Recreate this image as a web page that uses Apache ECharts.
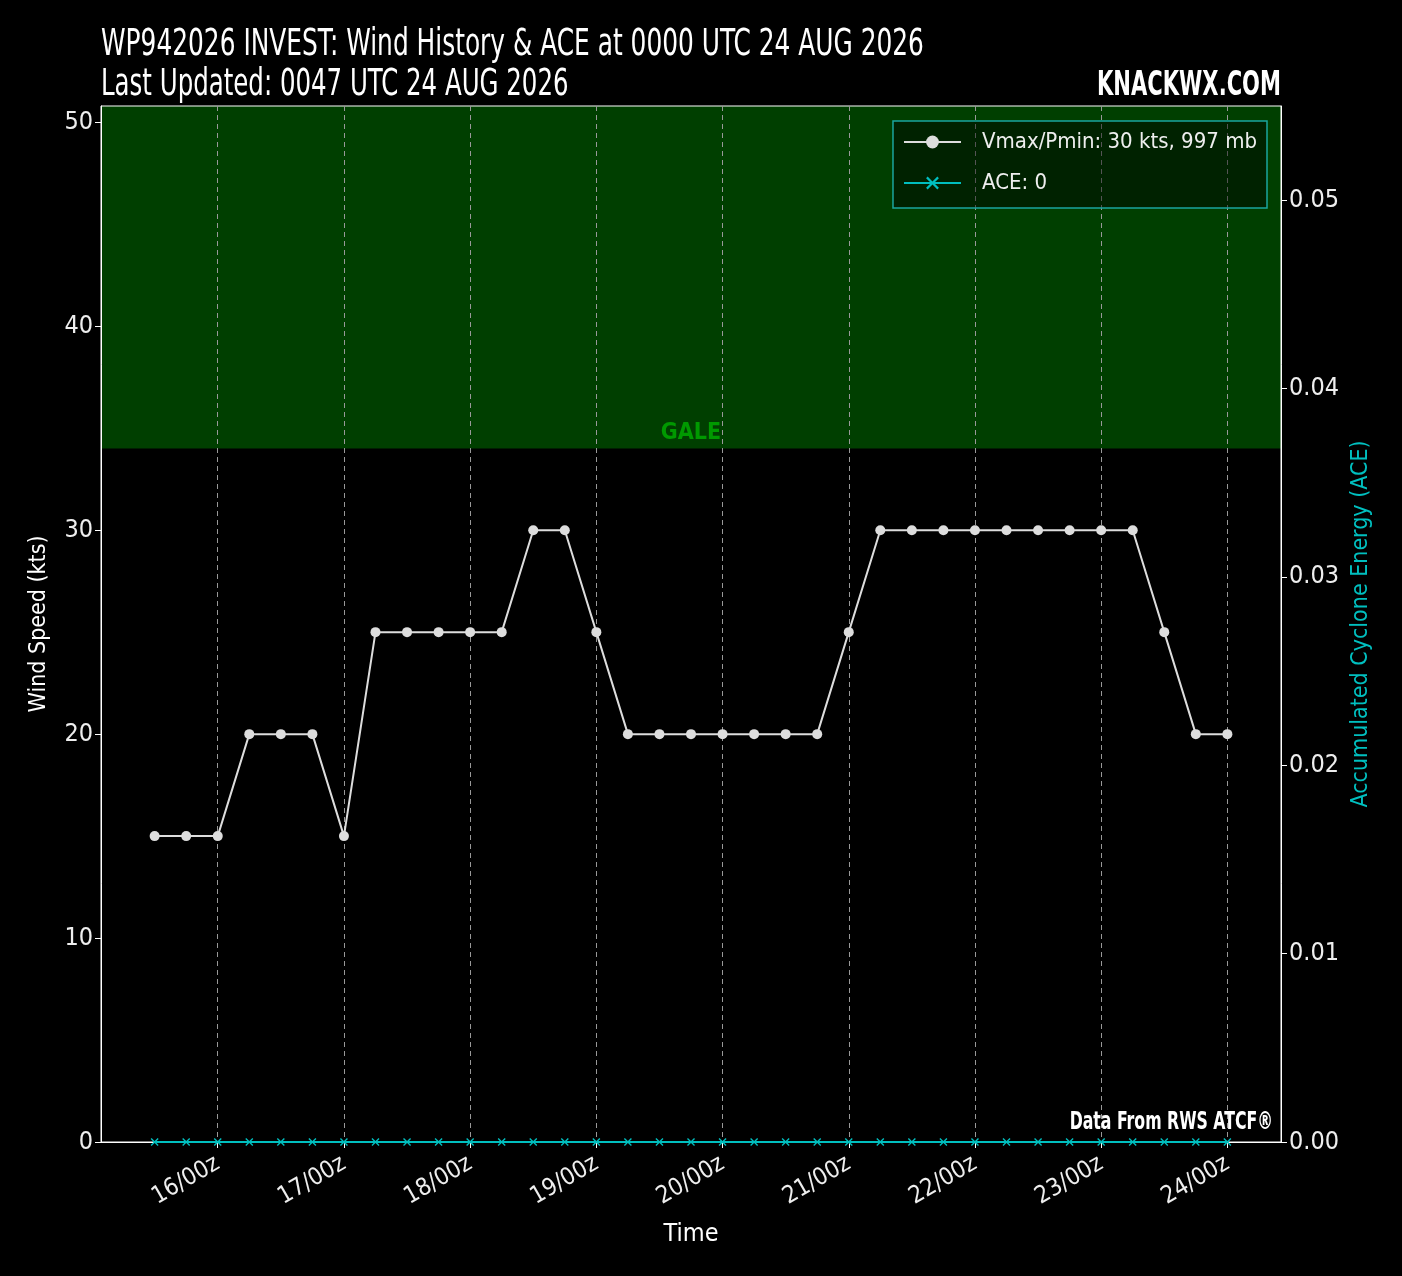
<!DOCTYPE html>
<html><head><meta charset="utf-8">
<script src="https://cdn.jsdelivr.net/npm/echarts@6/dist/echarts.min.js"></script>
<style>html,body{margin:0;padding:0;background:#000}#c{width:1402px;height:1276px}</style>
</head><body><div id="c"></div>
<script>
// ---- data ----
const windTimes = ['15/12','15/18','16/00','16/06','16/12','16/18','17/00','17/06','17/12','17/18',
  '18/00','18/06','18/12','18/18','19/00','19/06','19/12','19/18','20/00','20/06','20/12','20/18',
  '21/00','21/06','21/12','21/18','22/00','22/06','22/12','22/18','23/00','23/06','23/12','23/18','24/00'];
const windKts = [15,15,15,20,20,20,15,25,25,25,25,25,30,30,25,20,20,20,20,20,20,20,25,30,30,30,30,30,30,30,30,30,25,20,20];
const aceValues = [0,0,0,0,0,0,0,0,0,0,0,0,0,0,0,0,0,0,0,0,0,0,0,0,0,0,0,0,0,0,0,0,0,0,0];
const xTickLabels = ['16/00z','17/00z','18/00z','19/00z','20/00z','21/00z','22/00z','23/00z','24/00z'];
const windTicks = [0,10,20,30,40,50];
const aceTicks = [0,0.01,0.02,0.03,0.04,0.05];
const windAxisMax = 50.8;
const aceAxisMax = 0.055;
const galeThreshold = 34;
const windName = 'Vmax/Pmin: 30 kts, 997 mb';
const aceName = 'ACE: 0';

// ---- helpers ----
function toHours(s){ const p = s.replace('z','').split('/'); return (parseInt(p[0],10)-15)*24 + parseInt(p[1],10); }
const xs = windTimes.map(toHours);
const tickHours = xTickLabels.map(toHours);
const labelMap = {}; xTickLabels.forEach((l,i)=>labelMap[tickHours[i]] = l);
const span = xs[xs.length-1]-xs[0];
const xMin = xs[0]-0.05*span, xMax = xs[xs.length-1]+0.05*span;
const windData = xs.map((x,i)=>[x, windKts[i]]);
const aceData = xs.map((x,i)=>[x, aceValues[i]]);

const FONT = '"DejaVu Sans Condensed", "Liberation Sans Narrow", sans-serif';
const xSym = 'path://M0,1.2 L1.2,0 L5,3.8 L8.8,0 L10,1.2 L6.2,5 L10,8.8 L8.8,10 L5,6.2 L1.2,10 L0,8.8 L3.8,5 Z';

const chart = echarts.init(document.getElementById('c'), null, {renderer:'canvas'});
chart.setOption({
  backgroundColor: '#000',
  animation: false,
  textStyle: {fontFamily: FONT},
  grid: {left: 101, right: 121, top: 106, bottom: 134, show: true, borderColor: '#fff', borderWidth: 1, backgroundColor: 'transparent'},
  legend: {
    orient: 'vertical', right: 135, top: 121,
    itemWidth: 57, itemHeight: 16, itemGap: 19,
    padding: [10, 10, 14, 10],
    backgroundColor: 'rgba(0,0,0,0.45)', borderColor: '#1aa59e', borderWidth: 1.5, borderRadius: 0,
    textStyle: {color: '#eee', fontSize: 22, fontFamily: FONT, padding: [0,0,0,16]},
    data: [windName, aceName]
  },
  xAxis: {
    type: 'value', min: xMin, max: xMax,
    axisLine: {show: true, lineStyle: {color: '#fff', width: 1}},
    axisTick: {show: true, customValues: tickHours, length: 6, lineStyle: {color: '#fff'}},
    axisLabel: {customValues: tickHours, formatter: v => labelMap[v] || '', rotate: 30, color: '#eee', fontSize: 24, fontFamily: FONT, margin: 20},
    splitLine: {show: true, lineStyle: {color: '#999', type: [5,4], width: 1}},
    name: 'Time', nameLocation: 'middle', nameGap: 80,
    nameTextStyle: {color: '#fff', fontSize: 25, fontFamily: FONT}
  },
  yAxis: [{
    type: 'value', min: 0, max: windAxisMax, position: 'left',
    axisLine: {show: true, lineStyle: {color: '#fff'}},
    axisTick: {show: true, customValues: windTicks, length: 6, lineStyle: {color: '#fff'}},
    axisLabel: {customValues: windTicks, color: '#eee', fontSize: 25, fontFamily: FONT, margin: 8},
    splitLine: {show: false},
    name: 'Wind Speed (kts)', nameLocation: 'middle', nameGap: 50,
    nameTextStyle: {color: '#fff', fontSize: 23, fontFamily: FONT}
  }, {
    type: 'value', min: 0, max: aceAxisMax, position: 'right',
    axisLine: {show: true, lineStyle: {color: '#fff'}},
    axisTick: {show: true, customValues: aceTicks, length: 6, lineStyle: {color: '#fff'}},
    axisLabel: {customValues: aceTicks, formatter: v => v.toFixed(2), color: '#eee', fontSize: 25, fontFamily: FONT, margin: 8},
    splitLine: {show: false},
    name: 'Accumulated Cyclone Energy (ACE)', nameLocation: 'middle', nameGap: 64,
    nameTextStyle: {color: '#00bfbf', fontSize: 23, fontFamily: FONT}
  }],
  series: [{
    type: 'line', name: 'gale-band', data: windData, z: -2, silent: true,
    symbol: 'none', lineStyle: {opacity: 0}, tooltip: {show: false},
    markArea: {
      silent: true, z: -2,
      itemStyle: {color: '#003f00'},
      label: {show: true, position: 'insideBottom', formatter: 'GALE', color: '#009900', fontSize: 23, fontWeight: 'bold', fontFamily: FONT, distance: 4},
      data: [[{yAxis: galeThreshold}, {yAxis: windAxisMax}]]
    }
  }, {
    type: 'line', name: windName, data: windData, z: 3,
    color: '#dddddd',
    lineStyle: {color: '#dddddd', width: 2},
    itemStyle: {color: '#dddddd'},
    symbol: 'circle', symbolSize: 10, showAllSymbol: true
  }, {
    type: 'line', name: aceName, data: aceData, yAxisIndex: 1, z: 4,
    color: '#00bfbf',
    lineStyle: {color: '#00bfbf', width: 2},
    itemStyle: {color: '#00bfbf'},
    symbol: xSym, symbolSize: 8, showAllSymbol: true
  }],
  graphic: [
    {type: 'text', x: 101, y: 45, scaleX: 0.747, style: {text: 'WP942026 INVEST: Wind History & ACE at 0000 UTC 24 AUG 2026', fill: '#fff', font: '37px ' + FONT, textAlign: 'left', textVerticalAlign: 'middle'}},
    {type: 'text', x: 101, y: 85.5, scaleX: 0.735, style: {text: 'Last Updated: 0047 UTC 24 AUG 2026', fill: '#fff', font: '37px ' + FONT, textAlign: 'left', textVerticalAlign: 'middle'}},
    {type: 'text', x: 1281, y: 86, scaleX: 0.71, style: {text: 'KNACKWX.COM', fill: '#fff', font: 'bold 33px ' + FONT, textAlign: 'right', textVerticalAlign: 'middle'}},
    {type: 'text', z: 10, x: 1273, y: 1122, scaleX: 0.70, style: {text: 'Data From RWS ATCF®', fill: '#fff', font: 'bold 25px ' + FONT, textAlign: 'right', textVerticalAlign: 'middle'}}
  ]
});
</script></body></html>
